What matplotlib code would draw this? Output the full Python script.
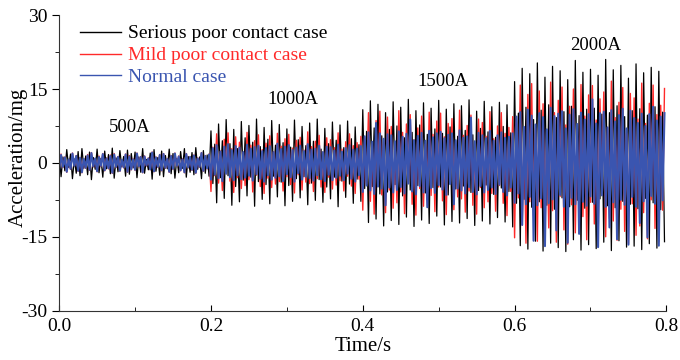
import numpy as np
import matplotlib
matplotlib.use('Agg')
import matplotlib.pyplot as plt
from matplotlib.ticker import MultipleLocator

plt.rcParams['font.family'] = ['Liberation Serif', 'DejaVu Serif']
plt.rcParams['axes.unicode_minus'] = False

# sampling step of the recorded signal (s)
dt = 0.0025

# acceleration samples (mg), 80 per current level: 500A, 1000A, 1500A, 2000A
serious = [
    2.1, -2.8, 1.2, -1.6, 2.7, -0.9, 1.8, -3.2, 0.8, -2.1, 2.3, -2.6, 2.9, -1.1, 1.4, -2.4, 2.2, -3.4, 1.1, -1.3,
    2.8, -2.0, 0.9, -2.9, 2.4, -1.2, 1.7, -2.2, 3.0, -3.1, 1.0, -1.8, 2.5, -0.8, 1.3, -2.7, 2.6, -2.3, 1.9, -1.0,
    2.2, -3.0, 1.2, -1.9, 2.9, -2.1, 0.7, -1.4, 2.0, -3.3, 2.7, -1.7, 1.1, -2.5, 2.4, -2.8, 1.5, -1.2, 2.8, -2.2,
    1.9, -3.1, 0.9, -2.0, 2.3, -1.1, 2.9, -2.9, 1.3, -1.9, 2.1, -2.4, 3.1, -1.3, 1.2, -3.2, 2.5, -2.1, 1.6, -2.7,
    6.5, -4.2, 3.8, -8.1, 7.9, -3.0, 4.5, -7.2, 8.8, -2.6, 3.9, -8.6, 6.8, -4.8, 2.9, -7.9, 8.4, -3.5, 5.1, -6.7,
    7.6, -2.9, 4.2, -8.8, 8.9, -3.8, 3.3, -7.4, 7.2, -4.4, 4.8, -8.3, 8.6, -2.7, 3.6, -6.9, 7.8, -3.9, 4.1, -8.7,
    6.9, -4.6, 3.2, -7.8, 8.7, -3.2, 4.7, -7.1, 7.4, -2.8, 3.5, -8.5, 8.1, -4.1, 4.4, -7.6, 8.9, -3.4, 2.8, -8.0,
    7.0, -4.9, 3.9, -7.3, 8.3, -2.9, 4.6, -8.9, 7.7, -3.7, 3.1, -7.0, 8.5, -4.3, 4.9, -8.2, 7.3, -3.3, 3.7, -7.8,
    10.8, -5.2, 6.4, -12.1, 12.6, -4.8, 7.1, -11.4, 11.9, -6.3, 5.5, -12.8, 10.2, -5.9, 6.8, -11.7, 12.4, -4.4, 7.5, -12.5,
    11.3, -6.7, 5.1, -11.0, 12.9, -5.5, 6.2, -12.9, 10.6, -4.6, 7.7, -11.6, 12.2, -6.1, 5.8, -12.3, 11.1, -5.0, 6.9, -10.8,
    12.7, -4.9, 6.0, -12.6, 10.9, -6.5, 7.3, -11.9, 12.0, -5.3, 5.4, -12.2, 11.6, -4.7, 6.6, -11.3, 12.8, -6.0, 5.7, -12.7,
    10.5, -5.6, 7.0, -11.8, 12.5, -4.5, 6.3, -12.4, 11.4, -6.4, 5.2, -11.1, 12.3, -5.1, 7.4, -12.0, 11.8, -5.8, 6.1, -13.0,
    16.5, -8.2, 10.1, -16.8, 19.2, -7.4, 11.3, -17.5, 18.1, -9.0, 8.8, -15.9, 20.3, -7.9, 10.7, -17.9, 17.4, -8.6, 11.8, -16.3,
    19.6, -9.4, 9.2, -17.2, 18.7, -7.1, 10.4, -18.0, 16.9, -8.9, 11.5, -15.6, 20.8, -7.6, 9.6, -17.7, 18.4, -9.2, 10.9, -16.6,
    19.0, -8.0, 11.1, -17.4, 17.8, -7.3, 9.9, -16.1, 21.0, -8.7, 10.2, -17.8, 18.9, -9.1, 11.6, -15.8, 19.8, -7.8, 9.4, -17.1,
    17.2, -8.4, 10.6, -16.9, 20.1, -9.3, 11.0, -17.6, 18.3, -7.2, 9.7, -16.4, 19.4, -8.1, 11.4, -17.3, 18.6, -9.5, 10.3, -16.0,
]

mild = [
    -1.4, 1.8, -0.9, 1.2, -1.9, 0.7, -1.3, 2.0, -0.6, 1.5, -1.7, 1.1, -2.0, 0.8, -1.1, 1.7, -1.5, 2.1, -0.8, 0.9,
    -1.8, 1.4, -0.7, 1.9, -1.6, 1.0, -1.2, 1.6, -2.1, 1.9, -0.9, 1.3, -1.7, 0.6, -1.0, 1.8, -1.9, 1.5, -1.4, 0.8,
    -1.5, 2.0, -0.8, 1.3, -2.0, 1.4, -0.6, 1.0, -1.4, 2.2, -1.8, 1.2, -0.9, 1.7, -1.6, 1.9, -1.1, 0.9, -1.9, 1.5,
    -1.3, 2.0, -0.7, 1.4, -1.6, 0.8, -2.0, 1.9, -1.0, 1.3, -1.5, 1.6, -2.1, 1.0, -0.9, 2.1, -1.7, 1.5, -1.2, 1.8,
    -5.8, 3.2, -2.6, 5.9, -4.1, 2.4, -5.6, 4.8, -2.2, 6.1, -3.7, 2.9, -6.0, 5.3, -3.0, 4.2, -5.2, 2.1, -4.6, 6.2,
    -3.4, 3.6, -5.9, 4.5, -2.5, 5.7, -4.8, 2.7, -6.2, 4.0, -3.1, 5.5, -5.0, 2.3, -4.3, 6.0, -3.8, 3.4, -5.7, 4.9,
    -2.8, 5.8, -4.4, 3.0, -6.1, 4.6, -2.4, 5.2, -5.5, 2.6, -3.9, 6.3, -4.2, 3.3, -5.8, 4.4, -3.2, 5.6, -4.9, 2.2,
    -6.0, 5.1, -2.9, 4.7, -5.3, 3.1, -4.5, 6.1, -3.6, 2.8, -5.7, 4.3, -2.7, 5.9, -4.7, 3.5, -6.2, 4.1, -3.3, 5.4,
    -9.6, 5.1, -4.3, 10.2, -7.8, 3.9, -10.4, 8.6, -4.8, 10.5, -6.5, 4.2, -10.1, 9.3, -5.5, 7.4, -9.2, 3.6, -8.1, 10.6,
    -5.9, 6.2, -10.3, 7.9, -4.1, 9.8, -8.4, 4.7, -10.6, 7.1, -5.2, 9.5, -8.8, 3.8, -7.5, 10.3, -6.6, 5.8, -9.9, 8.5,
    -4.9, 10.1, -7.7, 5.3, -10.5, 8.0, -4.0, 9.0, -9.5, 4.4, -6.9, 10.7, -7.3, 5.6, -10.0, 7.6, -5.7, 9.7, -8.6, 3.7,
    -10.4, 8.9, -5.0, 8.2, -9.1, 5.4, -7.9, 10.4, -6.2, 4.9, -9.8, 7.5, -4.6, 10.2, -8.2, 6.0, -10.7, 7.2, -5.8, 9.4,
    -15.2, 8.4, -7.1, 15.8, -12.6, 6.5, -16.3, 13.9, -7.9, 16.1, -10.8, 7.0, -15.9, 14.6, -9.1, 12.0, -14.8, 6.1, -13.2, 16.4,
    -9.7, 10.2, -16.1, 12.7, -6.8, 15.4, -13.6, 7.7, -16.5, 11.5, -8.5, 15.0, -14.2, 6.3, -12.1, 15.9, -10.9, 9.5, -15.6, 13.8,
    -8.0, 15.7, -12.4, 8.7, -16.2, 13.0, -6.6, 14.4, -15.0, 7.2, -11.3, 16.6, -11.8, 9.2, -15.7, 12.3, -9.4, 15.3, -13.9, 6.0,
    -16.4, 14.1, -8.3, 13.2, -14.7, 8.9, -12.8, 16.2, -10.1, 8.0, -15.4, 12.1, -7.5, 15.8, -13.3, 9.8, -16.0, 11.7, -9.6, 15.1,
]

normal = [
    -1.3, 1.6, -0.8, 1.1, -1.8, 0.7, -1.2, 1.9, -0.6, 1.4, -1.6, 1.0, -1.9, 0.8, -1.0, 1.5, -1.4, 2.0, -0.7, 0.9,
    -1.7, 1.2, -0.6, 1.8, -1.5, 0.9, -1.1, 1.4, -2.0, 1.7, -0.8, 1.2, -1.6, 0.6, -0.9, 1.7, -1.8, 1.3, -1.3, 0.7,
    -1.4, 1.9, -0.7, 1.2, -1.9, 1.3, -0.5, 0.9, -1.3, 2.1, -1.7, 1.1, -0.8, 1.6, -1.5, 1.8, -1.0, 0.8, -1.8, 1.4,
    -1.2, 1.9, -0.6, 1.3, -1.5, 0.7, -1.9, 1.8, -0.9, 1.2, -1.4, 1.5, -2.0, 0.9, -0.8, 2.0, -1.6, 1.4, -1.1, 1.7,
    -3.4, 3.0, -2.4, 3.6, -3.1, 2.3, -3.7, 3.3, -2.2, 3.8, -2.9, 2.6, -3.5, 3.4, -2.5, 3.1, -3.3, 2.2, -3.0, 3.7,
    -2.6, 2.9, -3.6, 3.2, -2.3, 3.5, -3.2, 2.4, -3.8, 3.0, -2.5, 3.4, -3.4, 2.2, -3.0, 3.9, -2.7, 2.8, -3.7, 3.3,
    -2.3, 3.6, -2.9, 2.6, -3.8, 3.1, -2.1, 3.5, -3.4, 2.4, -2.8, 3.8, -3.1, 2.7, -3.6, 2.9, -2.5, 3.5, -3.3, 2.2,
    -3.7, 3.3, -2.4, 3.2, -3.5, 2.5, -3.0, 3.7, -2.6, 2.3, -3.5, 3.0, -2.2, 3.6, -3.2, 2.7, -3.8, 2.9, -2.5, 3.4,
    -5.9, 5.4, -4.6, 6.2, -5.6, 4.3, -6.3, 8.1, -4.8, 6.0, -5.2, 4.9, -8.6, 5.8, -5.0, 5.6, -6.0, 4.4, -5.5, 6.4,
    -4.9, 5.3, -6.2, 5.9, -4.2, 8.8, -5.8, 4.6, -6.4, 5.5, -4.7, 6.1, -6.0, 4.5, -9.0, 6.5, -5.1, 5.2, -6.1, 6.0,
    -4.5, 6.3, -5.4, 5.0, -6.5, 5.7, -4.3, 6.0, -8.4, 4.6, -5.2, 6.6, -5.6, 5.1, -6.2, 5.4, -4.9, 9.2, -5.9, 4.4,
    -6.4, 6.1, -4.7, 5.6, -6.0, 5.0, -5.5, 6.5, -5.0, 4.5, -6.3, 5.6, -4.4, 6.2, -5.9, 5.1, -6.6, 5.3, -5.0, 6.0,
    -8.1, 9.4, -6.2, 10.3, -12.6, 7.3, -8.4, 10.8, -6.9, 9.6, -15.8, 7.8, -8.6, 10.1, -7.2, 9.3, -16.9, 6.8, -8.2, 11.2,
    -7.4, 9.5, -13.7, 10.0, -6.5, 10.5, -8.9, 7.0, -16.2, 9.8, -7.1, 10.9, -8.4, 7.9, -14.4, 10.2, -7.9, 8.8, -8.7, 9.9,
    -6.8, 12.9, -8.3, 8.0, -17.1, 10.1, -6.6, 10.4, -8.9, 7.2, -13.1, 10.7, -8.0, 8.4, -15.5, 9.7, -7.5, 11.0, -8.5, 7.0,
    -16.6, 10.6, -6.9, 9.1, -8.9, 8.1, -12.2, 10.0, -7.8, 7.5, -15.1, 9.9, -6.7, 11.4, -8.3, 8.6, -16.8, 9.4, -7.6, 10.1,
]

labels = ['Serious poor contact case', 'Mild poor contact case', 'Normal case']
colors = ['#000000', '#ff2a2a', '#3a55b0']
widths = [0.9, 1.0, 1.5]

currents = ['500A', '1000A', '1500A', '2000A']
current_x = [0.093, 0.308, 0.505, 0.707]
current_y = [7.1, 12.9, 16.6, 23.9]

t = np.arange(len(serious)) * dt

fig = plt.figure(figsize=(6.8, 3.6), dpi=100)
ax = fig.add_axes([0.087, 0.137, 0.893, 0.821])

for y, lab, c, w in zip([serious, mild, normal], labels, colors, widths):
    ax.plot(t, y, color=c, lw=w, label=lab)

for s, x, y in zip(currents, current_x, current_y):
    ax.text(x, y, s, ha='center', va='center', fontsize=13.5)

ax.set_xlim(0, 0.8)
ax.set_ylim(-30, 30)
ax.xaxis.set_major_locator(MultipleLocator(0.2))
ax.xaxis.set_minor_locator(MultipleLocator(0.1))
ax.yaxis.set_major_locator(MultipleLocator(15))
ax.yaxis.set_minor_locator(MultipleLocator(7.5))
ax.xaxis.set_major_formatter(plt.FormatStrFormatter('%.1f'))
ax.tick_params(axis='x', which='major', direction='in', length=4, labelsize=14, pad=5)
ax.tick_params(axis='x', which='minor', direction='in', length=3)
ax.tick_params(axis='y', which='major', direction='out', length=5, labelsize=14)
ax.tick_params(axis='y', which='minor', direction='out', length=3)
ax.spines['top'].set_visible(False)
ax.spines['right'].set_visible(False)
for sp in ['left', 'bottom']:
    ax.spines[sp].set_color('#333333')
    ax.spines[sp].set_linewidth(0.8)

ax.set_xlabel('Time/s', fontsize=15, labelpad=2)
ax.set_ylabel('Acceleration/mg', fontsize=15)
ax.yaxis.set_label_coords(-0.051, 0.52)

leg = ax.legend(loc='upper left', bbox_to_anchor=(0.018, 1.0), frameon=False,
                fontsize=14, handlelength=2.1, handletextpad=0.4, labelspacing=0.22,
                borderpad=0, labelcolor='linecolor')
for h in leg.get_lines():
    h.set_linewidth(1.0)

fig.savefig('out.png', dpi=100)
